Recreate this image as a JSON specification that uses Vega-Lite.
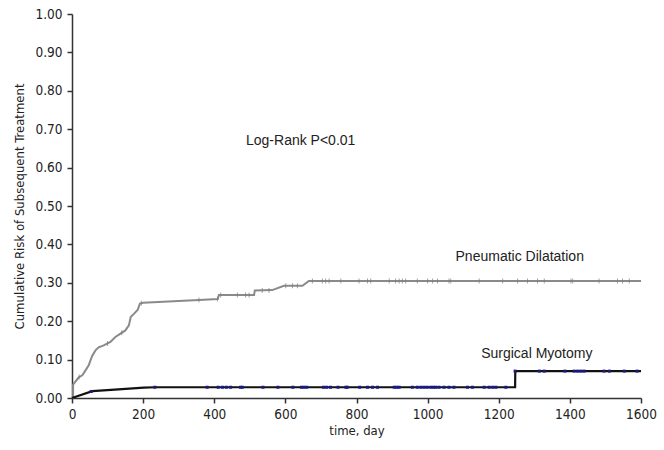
{
  "$schema": "https://vega.github.io/schema/vega-lite/v6.json",
  "width": 569,
  "height": 384,
  "autosize": {"type": "none"},
  "padding": {"left": 72, "top": 14, "right": 23, "bottom": 52},
  "background": "white",
  "config": {
    "view": {"stroke": null},
    "axis": {
      "grid": false,
      "domainColor": "#333333",
      "domainWidth": 1.5,
      "tickColor": "#333333",
      "tickWidth": 1.5,
      "tickSize": 5,
      "labelFont": "'DejaVu Sans Condensed', 'Liberation Sans', sans-serif",
      "labelFontSize": 13.5,
      "labelColor": "#222222",
      "titleFont": "'DejaVu Sans Condensed', 'Liberation Sans', sans-serif",
      "titleFontSize": 13,
      "titleFontWeight": "normal",
      "titleColor": "#222222"
    }
  },
  "datasets": {
    "pd": [
      {"t": 0, "r": 0}, {"t": 3, "r": 0}, {"t": 3, "r": 0.035}, {"t": 19, "r": 0.054},
      {"t": 29, "r": 0.059}, {"t": 38, "r": 0.072}, {"t": 47, "r": 0.085}, {"t": 52, "r": 0.098},
      {"t": 57, "r": 0.11}, {"t": 66, "r": 0.124}, {"t": 75, "r": 0.132}, {"t": 89, "r": 0.137},
      {"t": 108, "r": 0.146}, {"t": 122, "r": 0.159}, {"t": 132, "r": 0.165}, {"t": 150, "r": 0.176},
      {"t": 160, "r": 0.189}, {"t": 165, "r": 0.211}, {"t": 174, "r": 0.219}, {"t": 185, "r": 0.23},
      {"t": 191, "r": 0.246}, {"t": 200, "r": 0.248}, {"t": 357, "r": 0.255}, {"t": 410, "r": 0.258},
      {"t": 413, "r": 0.268}, {"t": 512, "r": 0.268}, {"t": 514, "r": 0.28}, {"t": 563, "r": 0.281},
      {"t": 596, "r": 0.292}, {"t": 648, "r": 0.292}, {"t": 666, "r": 0.305}, {"t": 1600, "r": 0.305}
    ],
    "pdc": [
      {"t": 20, "r": 0.055}, {"t": 100, "r": 0.142}, {"t": 140, "r": 0.17}, {"t": 195, "r": 0.247},
      {"t": 357, "r": 0.255}, {"t": 409, "r": 0.258}, {"t": 418, "r": 0.268}, {"t": 465, "r": 0.268},
      {"t": 488, "r": 0.268}, {"t": 498, "r": 0.268}, {"t": 535, "r": 0.28}, {"t": 554, "r": 0.28},
      {"t": 601, "r": 0.292}, {"t": 620, "r": 0.292}, {"t": 634, "r": 0.292},
      {"t": 676, "r": 0.305}, {"t": 704, "r": 0.305}, {"t": 713, "r": 0.305}, {"t": 723, "r": 0.305},
      {"t": 756, "r": 0.305}, {"t": 807, "r": 0.305}, {"t": 831, "r": 0.305}, {"t": 840, "r": 0.305},
      {"t": 892, "r": 0.305}, {"t": 910, "r": 0.305}, {"t": 920, "r": 0.305}, {"t": 929, "r": 0.305},
      {"t": 938, "r": 0.305}, {"t": 971, "r": 0.305}, {"t": 1000, "r": 0.305}, {"t": 1014, "r": 0.305},
      {"t": 1028, "r": 0.305}, {"t": 1060, "r": 0.305}, {"t": 1065, "r": 0.305}, {"t": 1145, "r": 0.305},
      {"t": 1211, "r": 0.305}, {"t": 1253, "r": 0.305}, {"t": 1281, "r": 0.305}, {"t": 1309, "r": 0.305},
      {"t": 1328, "r": 0.305}, {"t": 1403, "r": 0.305}, {"t": 1408, "r": 0.305}, {"t": 1482, "r": 0.305},
      {"t": 1534, "r": 0.305}, {"t": 1548, "r": 0.305}, {"t": 1567, "r": 0.305}
    ],
    "sm": [
      {"t": 0, "r": 0}, {"t": 57, "r": 0.018}, {"t": 120, "r": 0.022}, {"t": 202, "r": 0.027},
      {"t": 235, "r": 0.028}, {"t": 1246, "r": 0.028}, {"t": 1246.5, "r": 0.07}, {"t": 1600, "r": 0.07}
    ],
    "smc": [
      {"t": 54, "r": 0.017}, {"t": 233, "r": 0.028}, {"t": 380, "r": 0.028}, {"t": 411, "r": 0.028},
      {"t": 423, "r": 0.028}, {"t": 434, "r": 0.028}, {"t": 446, "r": 0.028}, {"t": 474, "r": 0.028},
      {"t": 479, "r": 0.028}, {"t": 537, "r": 0.028}, {"t": 579, "r": 0.028}, {"t": 621, "r": 0.028},
      {"t": 645, "r": 0.028}, {"t": 652, "r": 0.028}, {"t": 660, "r": 0.028}, {"t": 707, "r": 0.028},
      {"t": 716, "r": 0.028}, {"t": 727, "r": 0.028}, {"t": 748, "r": 0.028}, {"t": 770, "r": 0.028},
      {"t": 774, "r": 0.028}, {"t": 809, "r": 0.028}, {"t": 831, "r": 0.028}, {"t": 845, "r": 0.028},
      {"t": 859, "r": 0.028}, {"t": 906, "r": 0.028}, {"t": 913, "r": 0.028}, {"t": 920, "r": 0.028},
      {"t": 957, "r": 0.028}, {"t": 971, "r": 0.028}, {"t": 981, "r": 0.028}, {"t": 990, "r": 0.028},
      {"t": 999, "r": 0.028}, {"t": 1009, "r": 0.028}, {"t": 1016, "r": 0.028}, {"t": 1023, "r": 0.028},
      {"t": 1032, "r": 0.028}, {"t": 1046, "r": 0.028}, {"t": 1060, "r": 0.028}, {"t": 1074, "r": 0.028},
      {"t": 1112, "r": 0.028}, {"t": 1126, "r": 0.028}, {"t": 1159, "r": 0.028}, {"t": 1173, "r": 0.028},
      {"t": 1183, "r": 0.028}, {"t": 1192, "r": 0.028}, {"t": 1220, "r": 0.028},
      {"t": 1246, "r": 0.07}, {"t": 1314, "r": 0.07}, {"t": 1328, "r": 0.07}, {"t": 1386, "r": 0.07},
      {"t": 1412, "r": 0.07}, {"t": 1422, "r": 0.07}, {"t": 1431, "r": 0.07}, {"t": 1440, "r": 0.07},
      {"t": 1496, "r": 0.07}, {"t": 1511, "r": 0.07}, {"t": 1553, "r": 0.07}, {"t": 1589, "r": 0.07}
    ],
    "labels": [
      {"t": 643, "r": 0.669, "label": "Log-Rank P<0.01"},
      {"t": 1259, "r": 0.367, "label": "Pneumatic Dilatation"},
      {"t": 1307, "r": 0.115, "label": "Surgical Myotomy"}
    ]
  },
  "encoding": {
    "x": {
      "field": "t", "type": "quantitative",
      "scale": {"domain": [0, 1600], "nice": false, "zero": true},
      "axis": {"values": [0, 200, 400, 600, 800, 1000, 1200, 1400, 1600], "format": "d", "title": "time, day", "labelPadding": 4, "titlePadding": 4, "labelFlush": false}
    },
    "y": {
      "field": "r", "type": "quantitative",
      "scale": {"domain": [0, 1], "nice": false},
      "axis": {"values": [0, 0.1, 0.2, 0.3, 0.4, 0.5, 0.6, 0.7, 0.8, 0.9, 1.0], "format": ".2f", "title": "Cumulative Risk of Subsequent  Treatment", "labelPadding": 5, "titlePadding": 8, "labelFlush": false}
    }
  },
  "layer": [
    {
      "data": {"name": "pd"},
      "mark": {"type": "line", "color": "#8a8a8a", "strokeWidth": 2}
    },
    {
      "data": {"name": "pdc"},
      "mark": {"type": "tick", "orient": "vertical", "color": "#7a7a7a", "size": 5, "thickness": 1}
    },
    {
      "data": {"name": "sm"},
      "mark": {"type": "line", "color": "#111111", "strokeWidth": 2.2}
    },
    {
      "data": {"name": "smc"},
      "mark": {"type": "point", "shape": "square", "filled": true, "color": "#1a1a85", "size": 9, "opacity": 1}
    },
    {
      "data": {"name": "labels"},
      "mark": {"type": "text", "font": "Liberation Sans", "fontSize": 14, "color": "#222222", "align": "center", "baseline": "middle"},
      "encoding": {"text": {"field": "label"}}
    }
  ]
}
